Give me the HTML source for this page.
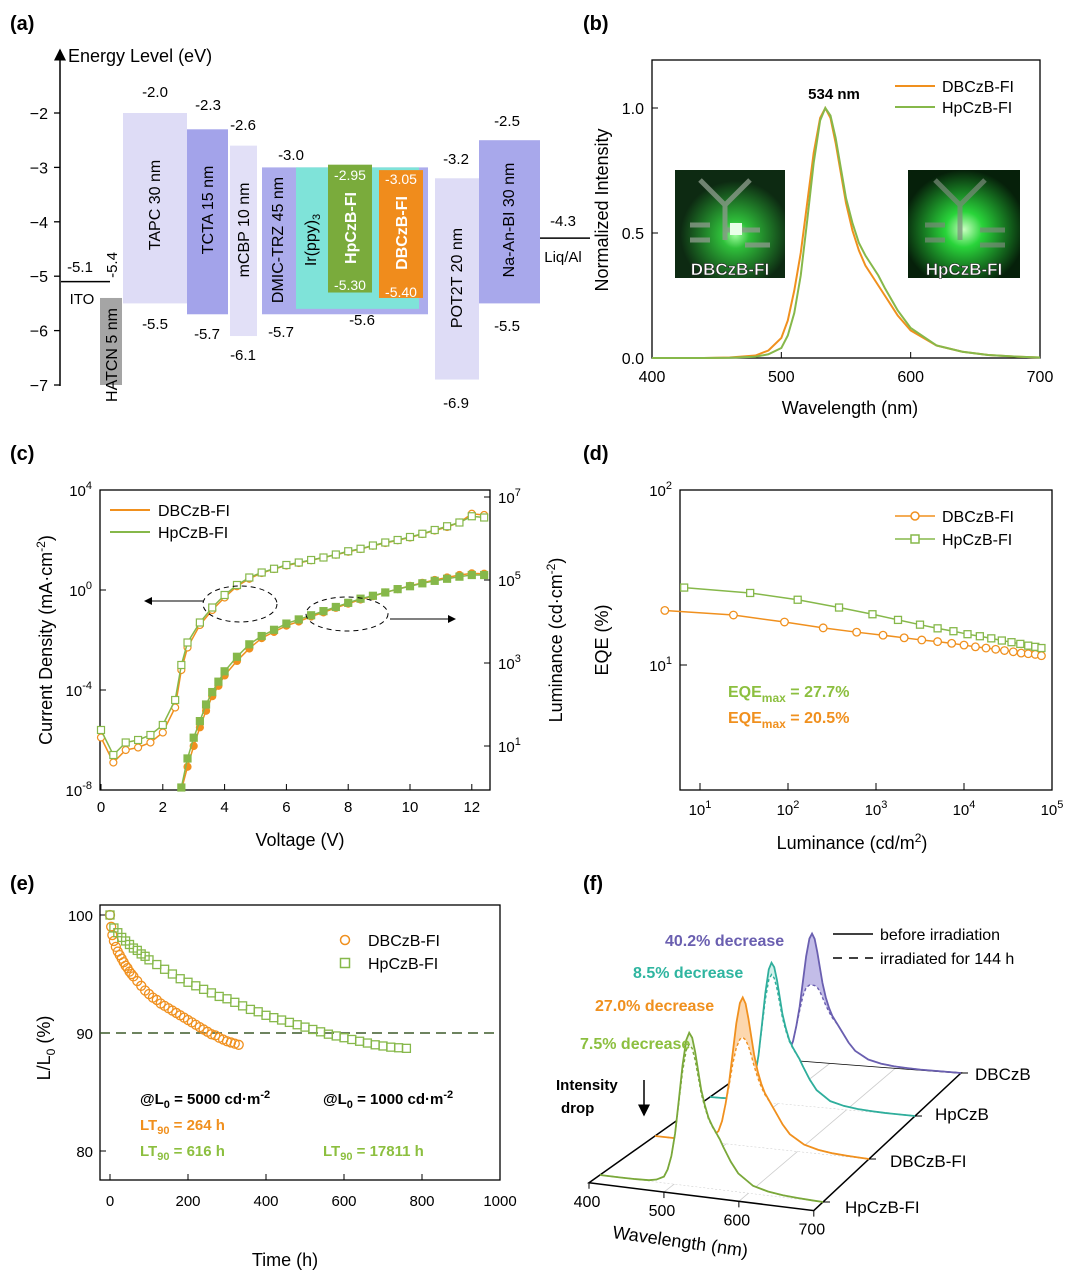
<!DOCTYPE html>
<html><head><meta charset="utf-8">
<style>
html,body{margin:0;padding:0;background:#fff;}
svg{display:block;font-family:"Liberation Sans",Arial,sans-serif;}
</style></head>
<body>
<svg id="fig" width="1080" height="1274" viewBox="0 0 1080 1274" xmlns="http://www.w3.org/2000/svg">
<defs>
<radialGradient id="glow1" cx="0.55" cy="0.6" r="0.5"><stop offset="0" stop-color="#9dff9d"/><stop offset="0.25" stop-color="#2fbf3a"/><stop offset="1" stop-color="#0d2a12"/></radialGradient>
<radialGradient id="glow2" cx="0.5" cy="0.55" r="0.55"><stop offset="0" stop-color="#c8ffc0"/><stop offset="0.3" stop-color="#29d43a"/><stop offset="1" stop-color="#06200a"/></radialGradient>
<marker id="arr" markerWidth="8" markerHeight="8" refX="7" refY="4" orient="auto"><path d="M0,0 L8,4 L0,8 z" fill="#000"/></marker>
</defs>

<!-- ===== Panel a ===== -->
<g>
<text x="10" y="30" font-size="20" font-weight="bold">(a)</text>
<line x1="60" y1="386" x2="60" y2="50" stroke="#000" stroke-width="1.5" marker-end="url(#arr)"/>
<text x="68" y="62" font-size="18">Energy Level (eV)</text>
<g id="a-ticks" font-size="16" text-anchor="end"></g>
<g id="a-bars"></g>
<g font-size="15" text-anchor="middle">
<text x="155" y="97">-2.0</text><text x="208" y="110">-2.3</text><text x="243" y="130">-2.6</text>
<text x="291" y="160">-3.0</text><text x="456" y="164">-3.2</text><text x="507" y="126">-2.5</text>
<text x="563" y="226">-4.3</text><text x="563" y="262">Liq/Al</text>
<text x="80" y="272">-5.1</text><text x="82" y="304">ITO</text>
<text x="155" y="329">-5.5</text><text x="207" y="339">-5.7</text><text x="243" y="360">-6.1</text>
<text x="281" y="337">-5.7</text><text x="362" y="325">-5.6</text><text x="456" y="408">-6.9</text><text x="507" y="331">-5.5</text>
<text transform="translate(117,265) rotate(-90)" text-anchor="middle">-5.4</text>
</g>
<g fill="#fff" font-size="14" text-anchor="middle">
<text x="350" y="180">-2.95</text><text x="350" y="290">-5.30</text>
<text x="401" y="184">-3.05</text><text x="401" y="297">-5.40</text>
</g>
<g font-size="16" text-anchor="middle">
<text transform="translate(160,205) rotate(-90)">TAPC 30 nm</text>
<text transform="translate(213,210) rotate(-90)">TCTA 15 nm</text>
<text transform="translate(249,230) rotate(-90)">mCBP 10 nm</text>
<text transform="translate(283,240) rotate(-90)">DMIC-TRZ 45 nm</text>
<text transform="translate(316,240) rotate(-90)">Ir(ppy)<tspan font-size="11" dy="4">3</tspan></text>
<text transform="translate(356,228) rotate(-90)" fill="#fff" font-weight="bold">HpCzB-FI</text>
<text transform="translate(407,233) rotate(-90)" fill="#fff" font-weight="bold">DBCzB-FI</text>
<text transform="translate(462,278) rotate(-90)">POT2T 20 nm</text>
<text transform="translate(514,220) rotate(-90)">Na-An-BI 30 nm</text>
<text transform="translate(117,355) rotate(-90)">HATCN 5 nm</text>
</g>
</g>

<!-- ===== Panel b ===== -->
<g>
<text x="583" y="30" font-size="20" font-weight="bold">(b)</text>
<rect x="652" y="60" width="388" height="298" fill="none" stroke="#000" stroke-width="1.3"/>
<g id="b-ticks" font-size="16"></g>
<text x="850" y="414" font-size="18" text-anchor="middle">Wavelength (nm)</text>
<text transform="translate(608,210) rotate(-90)" font-size="18" text-anchor="middle">Normalized Intensity</text>
<g>
<rect x="675" y="170" width="110" height="108" fill="url(#glow1)"/>
<path d="M700,180 L725,205 L725,240 M750,180 L725,205 M725,230 L760,230 M690,225 L710,225 M690,240 L710,240 M745,245 L770,245" stroke="#8a9a8a" stroke-width="5" fill="none" opacity="0.8"/>
<rect x="730" y="223" width="12" height="12" fill="#e8ffe8"/>
<text x="730" y="275" font-size="17" font-weight="bold" fill="#fff" stroke="#222" stroke-width="0.6" text-anchor="middle">DBCzB-FI</text>
</g>
<g>
<rect x="908" y="170" width="112" height="108" fill="url(#glow2)"/>
<path d="M935,180 L960,205 L960,240 M985,180 L960,205 M925,225 L945,225 M925,240 L945,240 M980,230 L1005,230 M980,245 L1005,245" stroke="#7a8a7a" stroke-width="5" fill="none" opacity="0.7"/>
<text x="964" y="275" font-size="17" font-weight="bold" fill="#fff" stroke="#222" stroke-width="0.6" text-anchor="middle">HpCzB-FI</text>
</g>
<g id="b-lines"></g>
<text x="834" y="99" font-size="15" font-weight="bold" text-anchor="middle">534 nm</text>
<g font-size="16">
<line x1="895" y1="86" x2="935" y2="86" stroke="#f0901e" stroke-width="2"/><text x="942" y="92">DBCzB-FI</text>
<line x1="895" y1="107" x2="935" y2="107" stroke="#86b84a" stroke-width="2"/><text x="942" y="113">HpCzB-FI</text>
</g>
</g>

<!-- ===== Panel c ===== -->
<g>
<text x="10" y="460" font-size="20" font-weight="bold">(c)</text>
<rect x="100" y="490" width="390" height="300" fill="none" stroke="#000" stroke-width="1.3"/>
<g id="c-ticks" font-size="15"></g>
<text x="300" y="846" font-size="18" text-anchor="middle">Voltage (V)</text>
<text transform="translate(52,640) rotate(-90)" font-size="18" text-anchor="middle">Current Density (mA·cm<tspan font-size="12" dy="-7">-2</tspan><tspan dy="7">)</tspan></text>
<text transform="translate(562,640) rotate(-90)" font-size="18" text-anchor="middle">Luminance (cd·cm<tspan font-size="12" dy="-7">-2</tspan><tspan dy="7">)</tspan></text>
<g id="c-series"></g>
<g fill="none" stroke="#000" stroke-dasharray="5,4">
<ellipse cx="240" cy="604" rx="37" ry="18"/><ellipse cx="347" cy="614" rx="41" ry="17"/>
</g>
<line x1="203" y1="601" x2="145" y2="601" stroke="#000" marker-end="url(#arr)"/>
<line x1="390" y1="619" x2="455" y2="619" stroke="#000" marker-end="url(#arr)"/>
<g font-size="16">
<line x1="110" y1="510" x2="150" y2="510" stroke="#f0901e" stroke-width="2"/><text x="158" y="516">DBCzB-FI</text>
<line x1="110" y1="532" x2="150" y2="532" stroke="#86b84a" stroke-width="2"/><text x="158" y="538">HpCzB-FI</text>
</g>
</g>

<!-- ===== Panel d ===== -->
<g>
<text x="583" y="460" font-size="20" font-weight="bold">(d)</text>
<rect x="680" y="490" width="372" height="300" fill="none" stroke="#000" stroke-width="1.3"/>
<g id="d-ticks" font-size="15"></g>
<text x="852" y="849" font-size="18" text-anchor="middle">Luminance (cd/m<tspan font-size="12" dy="-7">2</tspan><tspan dy="7">)</tspan></text>
<text transform="translate(608,640) rotate(-90)" font-size="18" text-anchor="middle">EQE (%)</text>
<g id="d-series"></g>
<g font-size="16">
<line x1="895" y1="516" x2="935" y2="516" stroke="#f0901e" stroke-width="1.5"/><circle cx="915" cy="516" r="4" fill="#fff" stroke="#f0901e" stroke-width="1.5"/><text x="942" y="522">DBCzB-FI</text>
<line x1="895" y1="539" x2="935" y2="539" stroke="#86b84a" stroke-width="1.5"/><rect x="911" y="535" width="8" height="8" fill="#fff" stroke="#86b84a" stroke-width="1.5"/><text x="942" y="545">HpCzB-FI</text>
</g>
<text x="728" y="697" font-size="16" font-weight="bold" fill="#8cbf3f">EQE<tspan font-size="12" dy="5">max</tspan><tspan dy="-5"> = 27.7%</tspan></text>
<text x="728" y="723" font-size="16" font-weight="bold" fill="#f0901e">EQE<tspan font-size="12" dy="5">max</tspan><tspan dy="-5"> = 20.5%</tspan></text>
</g>

<!-- ===== Panel e ===== -->
<g>
<text x="10" y="890" font-size="20" font-weight="bold">(e)</text>
<rect x="100" y="905" width="400" height="275" fill="none" stroke="#000" stroke-width="1.3"/>
<g id="e-ticks" font-size="15"></g>
<text x="285" y="1266" font-size="18" text-anchor="middle">Time (h)</text>
<text transform="translate(50,1048) rotate(-90)" font-size="18" text-anchor="middle">L/L<tspan font-size="12" dy="5">0</tspan><tspan dy="-5"> (%)</tspan></text>
<g id="e-series"></g>
<g font-size="16">
<circle cx="345" cy="940" r="4.5" fill="none" stroke="#f0901e" stroke-width="1.5"/><text x="368" y="946">DBCzB-FI</text>
<rect x="340.5" y="958.5" width="9" height="9" fill="none" stroke="#86b84a" stroke-width="1.5"/><text x="368" y="969">HpCzB-FI</text>
</g>
<g font-size="15" font-weight="bold">
<text x="140" y="1104">@L<tspan font-size="11" dy="4">0</tspan><tspan dy="-4"> = 5000 cd·m</tspan><tspan font-size="11" dy="-6">-2</tspan></text>
<text x="140" y="1130" fill="#f0901e">LT<tspan font-size="11" dy="4">90</tspan><tspan dy="-4"> = 264 h</tspan></text>
<text x="140" y="1156" fill="#8cbf3f">LT<tspan font-size="11" dy="4">90</tspan><tspan dy="-4"> = 616 h</tspan></text>
<text x="323" y="1104">@L<tspan font-size="11" dy="4">0</tspan><tspan dy="-4"> = 1000 cd·m</tspan><tspan font-size="11" dy="-6">-2</tspan></text>
<text x="323" y="1156" fill="#8cbf3f">LT<tspan font-size="11" dy="4">90</tspan><tspan dy="-4"> = 17811 h</tspan></text>
</g>
</g>

<!-- ===== Panel f ===== -->
<g>
<text x="583" y="890" font-size="20" font-weight="bold">(f)</text>
<g id="f-frame"></g>
<g id="f-series"></g>
<g font-size="16" font-weight="bold">
<text x="665" y="946" fill="#6a5fb0">40.2% decrease</text>
<text x="633" y="978" fill="#2fb5a0">8.5% decrease</text>
<text x="595" y="1011" fill="#f0901e">27.0% decrease</text>
<text x="580" y="1049" fill="#8cbf3f">7.5% decrease</text>
</g>
<g font-size="15" font-weight="bold">
<text x="556" y="1090">Intensity</text><text x="561" y="1113">drop</text>
<line x1="644" y1="1080" x2="644" y2="1115" stroke="#000" stroke-width="1.5" marker-end="url(#arr)"/>
</g>
<g font-size="16">
<line x1="833" y1="934" x2="873" y2="934" stroke="#000" stroke-width="1.5"/><text x="880" y="940">before irradiation</text>
<line x1="833" y1="958" x2="873" y2="958" stroke="#000" stroke-width="1.5" stroke-dasharray="9,7"/><text x="880" y="964">irradiated for 144 h</text>
</g>
<g font-size="17">
<text x="975" y="1080">DBCzB</text><text x="935" y="1120">HpCzB</text><text x="890" y="1167">DBCzB-FI</text><text x="845" y="1213">HpCzB-FI</text>
</g>
<text transform="translate(612,1238) rotate(8)" font-size="18">Wavelength (nm)</text>
</g>

<script>
// ---------- DATA ----------
const layerNames = ["TAPC","TCTA","mCBP","DMIC-TRZ","Ir(ppy)3","HpCzB-FI","DBCzB-FI","POT2T","Na-An-BI","HATCN"];
const layerLUMO = [-2.0,-2.3,-2.6,-3.0,-3.0,-2.95,-3.05,-3.2,-2.5,-5.4];
const layerHOMO = [-5.5,-5.7,-6.1,-5.7,-5.6,-5.30,-5.40,-6.9,-5.5,-7.0];
const energyTicks = [-2,-3,-4,-5,-6,-7];
const itoLevel = -5.1;
const cathodeLevel = -4.3;

const specWl = [440,460,480,490,500,505,510,515,520,525,530,534,538,542,546,550,555,560,565,570,575,580,590,600,620,640,660,680,700];
const specDB = [0,0.002,0.01,0.03,0.08,0.15,0.27,0.42,0.62,0.82,0.96,1.0,0.96,0.86,0.74,0.62,0.51,0.43,0.37,0.33,0.29,0.25,0.17,0.11,0.05,0.025,0.012,0.006,0.002];
const specHp = [0,0.001,0.005,0.015,0.04,0.09,0.18,0.33,0.55,0.78,0.95,1.0,0.97,0.88,0.76,0.64,0.54,0.46,0.41,0.37,0.33,0.28,0.19,0.12,0.05,0.025,0.012,0.006,0.002];
const bXTicks = [400,500,600,700];
const bYTicks = [0,0.5,1.0];

const cVolt = [0,0.4,0.8,1.2,1.6,2.0,2.4,2.6,2.8,3.2,3.6,4.0,4.4,4.8,5.2,5.6,6.0,6.4,6.8,7.2,7.6,8.0,8.4,8.8,9.2,9.6,10.0,10.4,10.8,11.2,11.6,12.0,12.4];
const cJHp = [-5.6,-6.6,-6.1,-6.0,-5.8,-5.4,-4.4,-3.0,-2.1,-1.3,-0.7,-0.2,0.2,0.5,0.7,0.85,1.0,1.1,1.2,1.3,1.42,1.55,1.65,1.78,1.9,2.0,2.12,2.25,2.4,2.55,2.7,2.95,2.9];
const cJDB = [-5.9,-6.9,-6.4,-6.3,-6.1,-5.7,-4.7,-3.2,-2.3,-1.4,-0.8,-0.3,0.15,0.45,0.68,0.84,0.98,1.08,1.19,1.3,1.41,1.53,1.64,1.77,1.88,1.99,2.1,2.24,2.38,2.52,2.7,3.05,3.0];
const cLVolt = [2.6,2.8,3.0,3.2,3.4,3.6,3.8,4.0,4.4,4.8,5.2,5.6,6.0,6.4,6.8,7.2,7.6,8.0,8.4,8.8,9.2,9.6,10.0,10.4,10.8,11.2,11.6,12.0,12.4];
const cLHp = [0.0,0.7,1.2,1.6,2.0,2.3,2.55,2.8,3.15,3.45,3.65,3.8,3.95,4.05,4.15,4.25,4.35,4.45,4.55,4.62,4.7,4.78,4.85,4.92,4.98,5.03,5.08,5.12,5.12];
const cLDB = [-0.2,0.5,1.0,1.45,1.85,2.2,2.45,2.7,3.05,3.35,3.6,3.75,3.9,4.0,4.12,4.22,4.33,4.43,4.53,4.61,4.7,4.78,4.86,4.93,5.0,5.06,5.12,5.16,5.15];
const cXTicks = [0,2,4,6,8,10,12];
const cJTicks = [4,0,-4,-8];
const cLTicks = [7,5,3,1];

const dLogLHp = [0.82,1.57,2.11,2.58,2.96,3.25,3.5,3.7,3.88,4.04,4.18,4.31,4.43,4.54,4.64,4.73,4.81,4.88];
const dEQEHp = [27.7,25.8,23.6,21.3,19.5,18.1,17.0,16.2,15.6,15.0,14.6,14.2,13.8,13.5,13.2,12.9,12.7,12.5];
const dLogLDB = [0.6,1.38,1.96,2.4,2.78,3.08,3.32,3.52,3.7,3.86,4.0,4.13,4.25,4.36,4.46,4.56,4.65,4.73,4.81,4.88];
const dEQEDB = [20.5,19.3,17.6,16.3,15.4,14.8,14.3,13.9,13.6,13.3,13.0,12.7,12.5,12.3,12.1,11.9,11.7,11.6,11.5,11.3];
const dXTicks = [1,2,3,4,5];
const dYTicks = [2,1];

const eTimeDB = [0,3,6,10,15,20,25,30,35,40,45,50,55,60,70,80,90,100,110,120,130,140,150,160,170,180,190,200,210,220,230,240,250,260,270,280,290,300,310,320,330];
const eLumDB = [100,99.0,98.3,97.8,97.3,96.9,96.6,96.3,96.0,95.7,95.5,95.2,95.0,94.8,94.4,94.0,93.6,93.3,93.0,92.8,92.5,92.3,92.1,91.9,91.7,91.5,91.3,91.1,90.9,90.7,90.5,90.3,90.1,89.9,89.8,89.6,89.45,89.3,89.2,89.1,89.0];
const eTimeHp = [0,10,20,30,40,50,60,70,80,90,100,120,140,160,180,200,220,240,260,280,300,320,340,360,380,400,420,440,460,480,500,520,540,560,580,600,620,640,660,680,700,720,740,760];
const eLumHp = [100,98.9,98.5,98.1,97.8,97.5,97.2,97.0,96.7,96.5,96.2,95.8,95.4,95.0,94.6,94.3,94.0,93.7,93.4,93.1,92.9,92.6,92.3,92.0,91.8,91.5,91.3,91.1,90.9,90.7,90.5,90.3,90.1,89.9,89.75,89.6,89.45,89.3,89.15,89.0,88.9,88.8,88.75,88.7];
const eXTicks = [0,200,400,600,800,1000];
const eYTicks = [100,90,80];
const eThreshold = 90;

// Panel f: rows front to back
const fNames = ["HpCzB-FI","DBCzB-FI","HpCzB","DBCzB"];
const fPeakShift = [-14,-11,-44,-62];
const fDecrease = [7.5,27.0,8.5,40.2];
const fRowHeight = [153,148,140,128];
const fXTicks = [400,500,600,700];

// ---------- HELPERS ----------
const NS = "http://www.w3.org/2000/svg";
function mk(tag, attrs, parent){ const el=document.createElementNS(NS,tag); for(const k in attrs) el.setAttribute(k,attrs[k]); parent.appendChild(el); return el; }
function txt(str,x,y,parent,extra){ const t=mk("text",Object.assign({x:x,y:y},extra||{}),parent); t.textContent=str; return t; }
function sup(base,exp,x,y,parent,anchor){ const t=mk("text",{x:x,y:y,"text-anchor":anchor||"middle"},parent); t.textContent=base; const s=mk("tspan",{"font-size":"11",dy:"-7"},t); s.textContent=exp; return t; }
const ORANGE="#f0901e", GREEN="#86b84a";

// ---------- PANEL A ----------
const ay = e => 113 + (-2 - e) * 54.4;
const aTicks=document.getElementById("a-ticks");
energyTicks.forEach(v=>{
  const l=mk("line",{x1:54,x2:60,y1:ay(v),y2:ay(v),stroke:"#000","stroke-width":1.3},aTicks);
  
  
  const t=txt(String(v).replace("-","−"),48,ay(v)+6,aTicks);
  
  
});
const layerX=[[123,187],[187,228],[230,257],[262,428],[296,419],[328,372],[379,423],[435,479],[479,540],[100,122]];
const layerFill=["#dedcf6","#a3a3ea","#e2e0f7","#acacec","#7fe3d9","#7aab3c","#f08c1c","#dedcf6","#a8a8eb","#a5a5a5"];
const aBars=document.getElementById("a-bars");
layerNames.forEach((n,i)=>{
  const r=mk("rect",{x:layerX[i][0],width:layerX[i][1]-layerX[i][0],y:ay(layerLUMO[i]),height:ay(layerHOMO[i])-ay(layerLUMO[i]),fill:layerFill[i]},aBars);
  
  
});
const ito=mk("line",{x1:61,x2:110,y1:ay(itoLevel),y2:ay(itoLevel),stroke:"#000","stroke-width":1.5},aBars);


const cat=mk("line",{x1:540,x2:590,y1:ay(cathodeLevel),y2:ay(cathodeLevel),stroke:"#000","stroke-width":1.5},aBars);



// ---------- PANEL B ----------
const bx = w => 652 + (w-400)/300*388;
const by = v => 358 - v*250;
const bT=document.getElementById("b-ticks");
bXTicks.forEach(v=>{
  mk("line",{x1:bx(v),x2:bx(v),y1:358,y2:352,stroke:"#000"},bT);
  const t=txt(String(v),bx(v),382,bT,{"text-anchor":"middle"});
  
  
});
bYTicks.forEach(v=>{
  mk("line",{x1:652,x2:658,y1:by(v),y2:by(v),stroke:"#000"},bT);
  const t=txt(v.toFixed(1),644,by(v)+6,bT,{"text-anchor":"end"});
  
  
});
const bL=document.getElementById("b-lines");
[[specDB,ORANGE,'line-dbczb-fi'],[specHp,GREEN,'line-hpczb-fi']].forEach(([arr,c,nm])=>{
  const pts=["M"+bx(400)+","+by(0),"L"+bx(specWl[0])+","+by(0)].concat(specWl.map((w,i)=>"L"+bx(w)+","+by(arr[i])));
  const p=mk("path",{d:pts.join(" "),fill:"none",stroke:c,"stroke-width":2},bL);
  
  
});

// ---------- PANEL C ----------
const cx = v => 101 + v*30.9;
const cyJ = lg => 490 + (4-lg)*25;
const cyL = lg => 497 + (7-lg)*41.5;
const cT=document.getElementById("c-ticks");
cXTicks.forEach(v=>{
  mk("line",{x1:cx(v),x2:cx(v),y1:790,y2:784,stroke:"#000"},cT);
  const t=txt(String(v),cx(v),812,cT,{"text-anchor":"middle"});
  
  
});
cJTicks.forEach(v=>{
  mk("line",{x1:100,x2:106,y1:cyJ(v),y2:cyJ(v),stroke:"#000"},cT);
  const t=sup("10",String(v),92,cyJ(v)+6,cT,"end");
  
  
});
cLTicks.forEach(v=>{
  mk("line",{x1:484,x2:490,y1:cyL(v),y2:cyL(v),stroke:"#000"},cT);
  const t=sup("10",String(v),498,cyL(v)+6,cT,"start");
  
  
});
const cS=document.getElementById("c-series");
function clipY(y){return Math.min(790,y);}
function seriesPath(xs,ys,fx,fy,color,name,marker,filled){
  const g=mk("g",{},cS);
  
  
  const d=xs.map((x,i)=>(i?"L":"M")+fx(x)+","+clipY(fy(ys[i]))).join(" ");
  mk("path",{d:d,fill:"none",stroke:color,"stroke-width":1.5},g);
  xs.forEach((x,i)=>{
    const X=fx(x),Y=fy(ys[i]); if(Y>790) return;
    let m;
    if(marker==="sq") m=mk("rect",{x:X-3.5,y:Y-3.5,width:7,height:7,fill:filled?color:"#fff",stroke:color,"stroke-width":1.2},g);
    else m=mk("circle",{cx:X,cy:Y,r:3.5,fill:filled?color:"#fff",stroke:color,"stroke-width":1.2},g);
    
    
  });
}
seriesPath(cVolt,cJDB,cx,cyJ,ORANGE,'current-density-dbczb-fi','circ',false);
seriesPath(cVolt,cJHp,cx,cyJ,GREEN,'current-density-hpczb-fi','sq',false);
seriesPath(cLVolt,cLDB,cx,cyL,ORANGE,'luminance-dbczb-fi','circ',true);
seriesPath(cLVolt,cLHp,cx,cyL,GREEN,'luminance-hpczb-fi','sq',true);

// ---------- PANEL D ----------
const dx = lg => 700 + (lg-1)*88;
const dy = e => 490 + (2-Math.log10(e))*175;
const dT=document.getElementById("d-ticks");
dXTicks.forEach(v=>{
  mk("line",{x1:dx(v),x2:dx(v),y1:790,y2:783,stroke:"#000"},dT);
  const t=sup("10",String(v),dx(v),815,dT,"middle");
  
  
});
dYTicks.forEach(v=>{
  mk("line",{x1:680,x2:687,y1:490+(2-v)*175,y2:490+(2-v)*175,stroke:"#000"},dT);
  const t=sup("10",String(v),672,490+(2-v)*175+6,dT,"end");
  
  
});
const dS=document.getElementById("d-series");
function dSeries(xs,ys,color,name,marker){
  const g=mk("g",{},dS);
  
  
  mk("path",{d:xs.map((x,i)=>(i?"L":"M")+dx(x)+","+dy(ys[i])).join(" "),fill:"none",stroke:color,"stroke-width":1.5},g);
  xs.forEach((x,i)=>{
    let m;
    if(marker==="sq") m=mk("rect",{x:dx(x)-3.5,y:dy(ys[i])-3.5,width:7,height:7,fill:"#fff",stroke:color,"stroke-width":1.3},g);
    else m=mk("circle",{cx:dx(x),cy:dy(ys[i]),r:3.8,fill:"#fff",stroke:color,"stroke-width":1.3},g);
    
    
  });
}
dSeries(dLogLDB,dEQEDB,ORANGE,'eqe-dbczb-fi','circ');
dSeries(dLogLHp,dEQEHp,GREEN,'eqe-hpczb-fi','sq');

// ---------- PANEL E ----------
const ex = t => 110 + t*0.39;
const ey = v => 915 + (100-v)*11.8;
const eT=document.getElementById("e-ticks");
eXTicks.forEach(v=>{
  mk("line",{x1:ex(v),x2:ex(v),y1:1180,y2:1174,stroke:"#000"},eT);
  const t=txt(String(v),ex(v),1206,eT,{"text-anchor":"middle"});
  
  
});
eYTicks.forEach(v=>{
  mk("line",{x1:100,x2:106,y1:ey(v),y2:ey(v),stroke:"#000"},eT);
  const t=txt(String(v),93,ey(v)+6,eT,{"text-anchor":"end"});
  
  
});
const eS=document.getElementById("e-series");
const thr=mk("line",{x1:100,x2:500,y1:ey(eThreshold),y2:ey(eThreshold),stroke:"#3d5a2a","stroke-width":1.5,"stroke-dasharray":"10,6"},eS);


eTimeDB.forEach((t,i)=>{
  const c=mk("circle",{cx:ex(t),cy:ey(eLumDB[i]),r:4.5,fill:"none",stroke:ORANGE,"stroke-width":1.3},eS);
  
  
});
eTimeHp.forEach((t,i)=>{
  const r=mk("rect",{x:ex(t)-4,y:ey(eLumHp[i])-4,width:8,height:8,fill:"none",stroke:GREEN,"stroke-width":1.3},eS);
  
  
});

// ---------- PANEL F ----------
const fColors=["#7aa83a","#f0901e","#2fae9c","#6a5fb0"];
const fFill=["#e8f3d8","#fbd0a0","#c9efe7","#b8b2e4"];
// perspective: row r left corner and right corner
const fP = (w,r) => {
  const Lx=600+55*r, Ly=1175-39*r, Rx=823+46*r, Ry=1202-43*r;
  const f=(w-400)/300;
  return [Lx+(Rx-Lx)*f, Ly+(Ry-Ly)*f];
};
const fr=document.getElementById("f-frame");
for(let row=0;row<3;row++){
  const a=fP(400,row),b=fP(700,row);
  const l=mk("line",{x1:a[0],y1:a[1],x2:b[0],y2:b[1],stroke:"#bbb","stroke-width":0.8,"stroke-dasharray":"2,2"},fr);
  
  
}
[500,600].forEach(w=>{const a=fP(w,-0.2),b=fP(w,3);const l=mk("line",{x1:a[0],y1:a[1],x2:b[0],y2:b[1],stroke:"#ccc","stroke-width":0.8},fr);
  
  });
const a0=fP(400,-0.2),a1=fP(700,-0.2),a2=fP(700,3),a3=fP(400,3);
const ax1=mk("path",{d:`M${a3[0]},${a3[1]} L${a0[0]},${a0[1]} L${a1[0]},${a1[1]} L${a2[0]},${a2[1]} L${a3[0]},${a3[1]}`,fill:"none",stroke:"#000","stroke-width":1.5},fr);


for(let r=0;r<4;r++){const p=fP(700,r);mk("line",{x1:p[0],y1:p[1],x2:p[0]+7,y2:p[1],stroke:"#000"},fr);}
fXTicks.forEach(w=>{
  const p=fP(w,-0.2);
  mk("line",{x1:p[0],y1:p[1],x2:p[0],y2:p[1]+6,stroke:"#000"},fr);
  const t=txt(String(w),p[0]-2,p[1]+24,fr,{"font-size":"16","text-anchor":"middle"});
  
  
});
const fS=document.getElementById("f-series");
for(let row=3;row>=0;row--){
  const base = row%2===0 ? specHp : specDB;
  const sc = fRowHeight[row];
  const ratio = 1 - fDecrease[row]/100;
  let wls=[400], vals=[0];
  specWl.forEach((w,i)=>{const ws=w+fPeakShift[row]; if(ws>400){wls.push(ws);vals.push(base[i]);}});
  wls.push(700); vals.push(0);
  const solid = wls.map((w,i)=>{const p=fP(w,row);return [p[0],p[1]-vals[i]*sc];});
  const dash = wls.map((w,i)=>{const p=fP(w,row);const v=vals[i]>0.3?vals[i]*(1-(1-ratio)*((vals[i]-0.3)/0.7)):vals[i];return [p[0],p[1]-v*sc];});
  const g=mk("g",{},fS);
  
  
  mk("path",{d:solid.map((p,i)=>(i?"L":"M")+p[0]+","+p[1]).join(" ")+" Z",fill:"#fff"},g);
  const band=mk("path",{d:solid.map((p,i)=>(i?"L":"M")+p[0]+","+p[1]).join(" ")+" "+dash.slice().reverse().map(p=>"L"+p[0]+","+p[1]).join(" ")+" Z",fill:fFill[row],opacity:0.85},g);
  
  
  const d2=mk("path",{d:dash.map((p,i)=>(i?"L":"M")+p[0]+","+p[1]).join(" "),fill:"none",stroke:fColors[row],"stroke-width":1.4,"stroke-dasharray":"3,2.5"},g);
  
  
  const s1=mk("path",{d:solid.map((p,i)=>(i?"L":"M")+p[0]+","+p[1]).join(" "),fill:"none",stroke:fColors[row],"stroke-width":1.8},g);
  
  
}
</script>
</svg>
</body></html>
